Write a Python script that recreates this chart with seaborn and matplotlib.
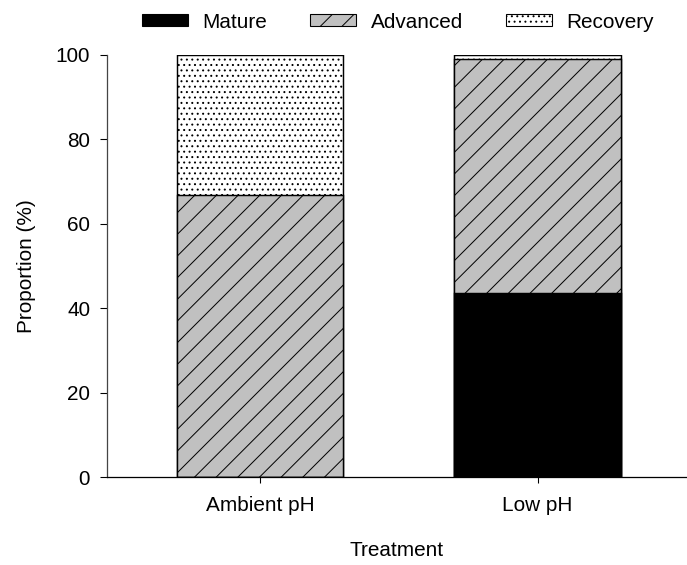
import matplotlib
matplotlib.use("Agg")
import matplotlib.pyplot as plt
from matplotlib.patches import Patch
import seaborn as sns
import pandas as pd

# Data: proportion of individuals at each stage, per treatment
treatments = ["Ambient pH", "Low pH"]
mature = [0.0, 43.5]
advanced = [66.7, 55.5]
recovery = [33.3, 1.0]

stage_names = ["Mature", "Advanced", "Recovery"]
stage_colors = ["#000000", "#c0c0c0", "#ffffff"]
stage_hatches = [None, "//", "...."]

sns.set_theme(style="white")
plt.rcParams["font.family"] = ["Liberation Sans", "DejaVu Sans"]
plt.rcParams["hatch.linewidth"] = 0.55
for key in ["text.color", "axes.labelcolor", "xtick.color", "ytick.color"]:
    plt.rcParams[key] = "black"

DPI = 130
fig = plt.figure(figsize=(687 / DPI, 565 / DPI), dpi=DPI)
ax = fig.add_axes([107 / 687, 87.7 / 565, 580 / 687, 422.8 / 565])

df = pd.DataFrame({
    "Treatment": treatments,
    "Mature": mature,
    "Advanced": advanced,
    "Recovery": recovery,
})
# cumulative tops, drawn from the tallest layer down so the stack reads correctly
df["top_recovery"] = df["Mature"] + df["Advanced"] + df["Recovery"]
df["top_advanced"] = df["Mature"] + df["Advanced"]
df["top_mature"] = df["Mature"]

layers = [("top_recovery", 2), ("top_advanced", 1), ("top_mature", 0)]
for col, i in layers:
    sns.barplot(
        data=df, x="Treatment", y=col, ax=ax,
        color=stage_colors[i], saturation=1, width=0.6,
        edgecolor="black", linewidth=0.8, hatch=stage_hatches[i],
        errorbar=None,
    )

ax.set_xlim(-0.5514, 1.5387)
ax.set_ylim(0, 100)
ax.set_yticks([0, 20, 40, 60, 80, 100])

fs = 11.5
ax.tick_params(axis="y", which="both", left=True, direction="out", length=3.9,
               width=0.6, pad=5.5, labelsize=fs, colors="black")
ax.tick_params(axis="x", which="both", bottom=True, direction="out", length=3.2,
               width=0.6, pad=7.0, labelsize=fs, colors="black")

for s in ["top", "right"]:
    ax.spines[s].set_visible(False)
ax.spines["left"].set_color("#444444")
ax.spines["left"].set_linewidth(0.7)
ax.spines["bottom"].set_color("black")
ax.spines["bottom"].set_linewidth(0.7)
ax.set_facecolor("white")
ax.grid(False)

ax.set_ylabel("Proportion (%)", fontsize=fs, labelpad=11)
ax.set_xlabel("Treatment", fontsize=fs, labelpad=14.5)

handles = [
    Patch(facecolor=stage_colors[i], edgecolor="black", linewidth=0.6,
          hatch=stage_hatches[i], label=stage_names[i])
    for i in range(3)
]
fig.legend(handles=handles, loc="center", bbox_to_anchor=(398 / 687, 1 - 22 / 565),
           ncol=3, frameon=False, fontsize=fs, handlelength=2.2, handleheight=0.55,
           handletextpad=0.7, columnspacing=2.1, borderpad=0)

fig.savefig("out.png", dpi=DPI)
